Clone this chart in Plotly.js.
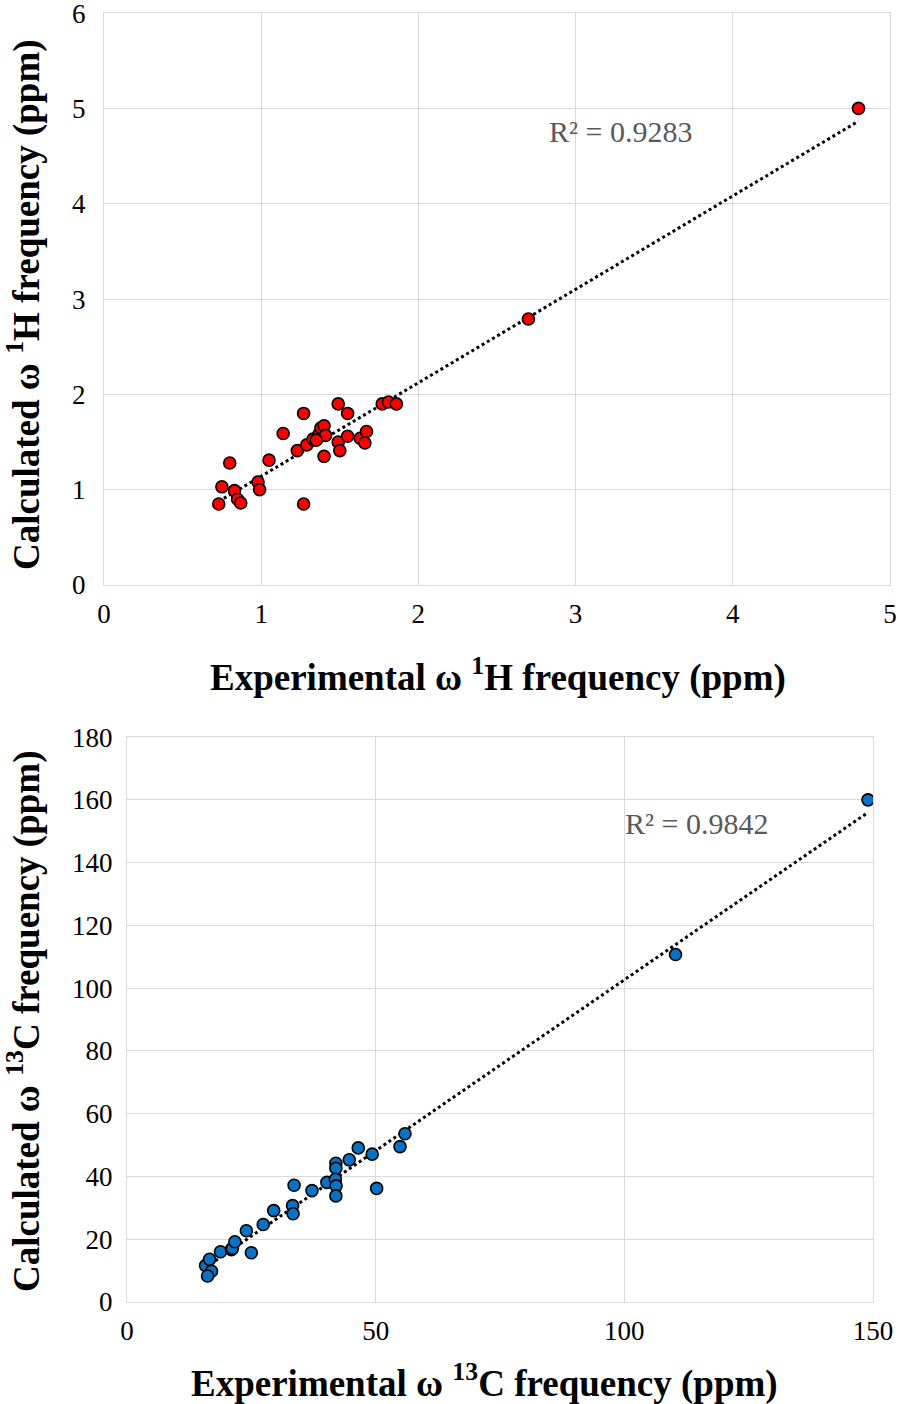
<!DOCTYPE html>
<html>
<head>
<meta charset="utf-8">
<script src="https://cdn.plot.ly/plotly-3.0.1.min.js"></script>
<style>html,body{margin:0;padding:0;background:#fff;}#chart{width:898px;height:1404px;}</style>
</head>
<body>
<div id="chart"></div>
<script>
// Top chart: 1H
const hExp = [0.73,0.80,0.75,0.83,0.85,0.87,0.98,0.99,1.05,1.14,1.27,1.27,1.23,1.29,1.33,1.36,1.37,1.38,1.40,1.41,1.35,1.40,1.49,1.55,1.49,1.50,1.55,1.63,1.67,1.66,1.77,1.81,1.86,2.70,4.80];
const hCalc = [0.85,1.28,1.03,0.99,0.90,0.86,1.08,1.00,1.31,1.59,0.85,1.80,1.41,1.47,1.53,1.54,1.59,1.65,1.67,1.57,1.52,1.35,1.90,1.80,1.50,1.41,1.56,1.54,1.61,1.49,1.90,1.92,1.90,2.79,5.00];
const hR2 = "R² = 0.9283";
const hXTicks = [0,1,2,3,4,5];
const hYTicks = [0,1,2,3,4,5,6];

// Bottom chart: 13C
const cExp = [15.8,16.6,17.0,16.2,18.8,21.0,21.2,21.7,25.0,24.0,27.4,29.5,33.3,33.4,33.6,37.2,40.2,42.0,42.0,41.9,42.05,42.0,44.7,46.5,49.3,50.2,54.9,55.9,110.3,149.0];
const cCalc = [11.6,13.6,9.8,8.3,16.0,16.7,17.1,19.2,15.7,22.7,24.7,29.1,30.7,28.1,37.2,35.5,38.1,44.2,42.6,39.1,37.0,33.8,45.3,49.1,47.1,36.2,49.5,53.6,110.7,160.0];
const cR2 = "R² = 0.9842";
const cXTicks = [0,50,100,150];
const cYTicks = [0,20,40,60,80,100,120,140,160,180];

function fitLine(xs, ys){
  const n = xs.length;
  let sx=0, sy=0, sxx=0, sxy=0;
  for(let i=0;i<n;i++){sx+=xs[i];sy+=ys[i];sxx+=xs[i]*xs[i];sxy+=xs[i]*ys[i];}
  const b = (n*sxy - sx*sy)/(n*sxx - sx*sx);
  const a = (sy - b*sx)/n;
  const x0 = Math.min(...xs), x1 = Math.max(...xs);
  return {x:[x0,x1], y:[a+b*x0, a+b*x1]};
}
const hFit = fitLine(hExp, hCalc);
const cFit = fitLine(cExp, cCalc);

const FONT = 'Liberation Serif';
const W = 898, H = 1404;
const traces = [
  {x:hFit.x, y:hFit.y, mode:'lines', line:{color:'#000', width:3, dash:'dot'}, xaxis:'x', yaxis:'y', hoverinfo:'skip'},
  {x:hExp, y:hCalc, mode:'markers', marker:{color:'#ff0000', size:12, line:{color:'#000', width:1.6}}, xaxis:'x', yaxis:'y'},
  {x:cFit.x, y:cFit.y, mode:'lines', line:{color:'#000', width:3, dash:'dot'}, xaxis:'x2', yaxis:'y2', hoverinfo:'skip'},
  {x:cExp, y:cCalc, mode:'markers', marker:{color:'#0a72c4', size:12, line:{color:'#000', width:1.6}}, xaxis:'x2', yaxis:'y2'}
];

const gridC = '#d9d9d9';
function ax(extra){
  return Object.assign({
    showgrid:true, gridcolor:gridC, gridwidth:1, zeroline:false,
    showline:true, linecolor:gridC, linewidth:1, mirror:true,
    ticks:'', tickfont:{family:FONT, size:27, color:'#000'}, fixedrange:true,
    ticklabeloverflow:'allow'
  }, extra);
}

const layout = {
  width:W, height:H, showlegend:false,
  paper_bgcolor:'#fff', plot_bgcolor:'#fff',
  margin:{l:0, r:0, t:0, b:0},
  font:{family:FONT, color:'#000'},
  xaxis: ax({domain:[104/W, 890/W], range:[0,5.0005], tickvals:hXTicks, ticktext:hXTicks.map(String), anchor:'y', ticklabelstandoff:5}),
  yaxis: ax({domain:[(H-585)/H, (H-13)/H], range:[0,6.001], tickvals:hYTicks, ticktext:hYTicks.map(String), anchor:'x', ticklabelstandoff:12}),
  xaxis2: ax({domain:[127/W, 873/W], range:[0,150.01], tickvals:cXTicks, ticktext:cXTicks.map(String), anchor:'y2', ticklabelstandoff:5}),
  yaxis2: ax({domain:[(H-1302)/H, (H-737)/H], range:[0,180.02], tickvals:cYTicks, ticktext:cYTicks.map(String), anchor:'x2', ticklabelstandoff:8}),
  annotations:[
    {xref:'paper', yref:'paper', x:498/W, y:1-675/H, text:'<b>Experimental ω <sup>1</sup>H frequency (ppm)</b>', showarrow:false, font:{family:FONT, size:37, color:'#000'}, xanchor:'center', yanchor:'middle'},
    {xref:'paper', yref:'paper', x:24/W, y:1-305/H, text:'<b>Calculated ω <sup>1</sup>H frequency (ppm)</b>', showarrow:false, textangle:-90, font:{family:FONT, size:37, color:'#000'}, xanchor:'center', yanchor:'middle'},
    {xref:'paper', yref:'paper', x:485/W, y:1-1381/H, text:'<b>Experimental ω <sup>13</sup>C frequency (ppm)</b>', showarrow:false, font:{family:FONT, size:37, color:'#000'}, xanchor:'center', yanchor:'middle'},
    {xref:'paper', yref:'paper', x:24/W, y:1-1022/H, text:'<b>Calculated ω <sup>13</sup>C frequency (ppm)</b>', showarrow:false, textangle:-90, font:{family:FONT, size:37, color:'#000'}, xanchor:'center', yanchor:'middle'},
    {xref:'paper', yref:'paper', x:620/W, y:1-131/H, text:hR2, showarrow:false, font:{family:FONT, size:30, color:'#595959'}, xanchor:'center', yanchor:'middle'},
    {xref:'paper', yref:'paper', x:696/W, y:1-823/H, text:cR2, showarrow:false, font:{family:FONT, size:30, color:'#595959'}, xanchor:'center', yanchor:'middle'}
  ]
};
Plotly.newPlot('chart', traces, layout, {displayModeBar:false, staticPlot:true});
</script>
</body>
</html>
